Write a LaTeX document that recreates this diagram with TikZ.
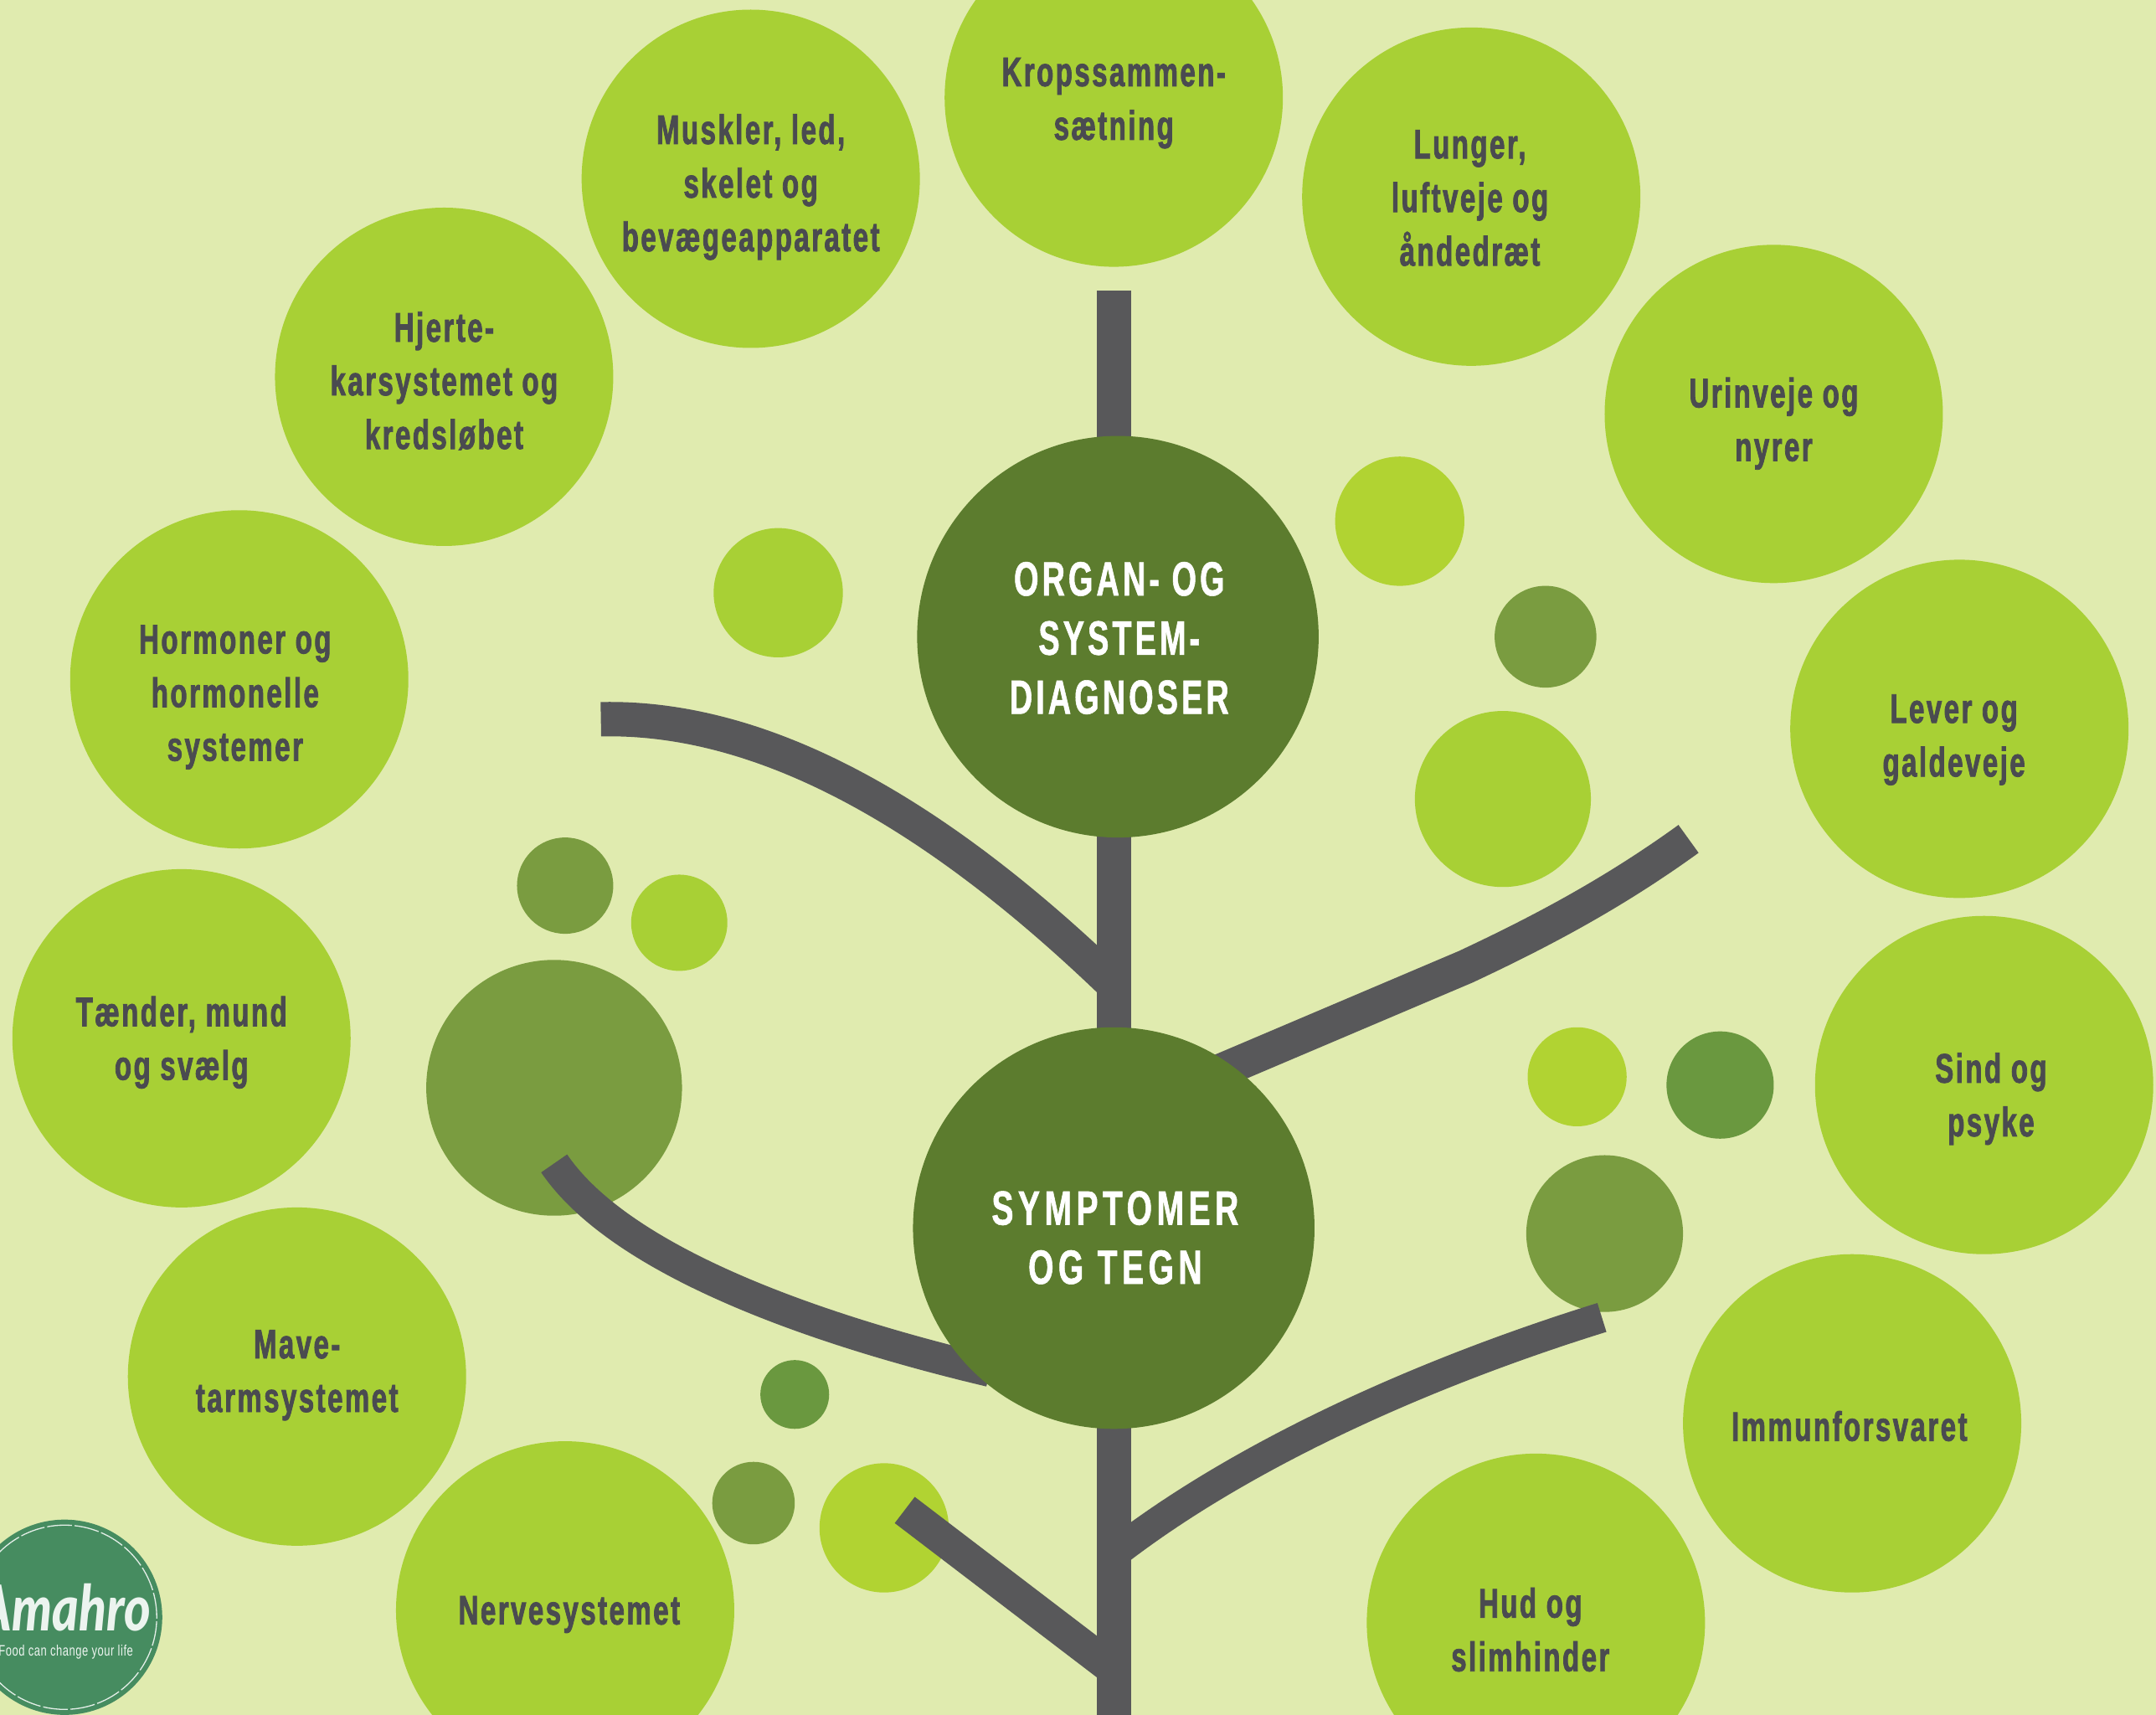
\documentclass[tikz,border=0pt]{standalone}
\usepackage{fontspec}
\setmainfont{Liberation Sans}
\newfontfamily\condb[FakeStretch=0.67,LetterSpace=5,FakeBold=1.6]{Liberation Sans Bold}
\newfontfamily\condw[FakeStretch=0.66,LetterSpace=7,FakeBold=1]{Liberation Sans Bold}
\newfontfamily\condwide[FakeStretch=0.68,LetterSpace=9.5,FakeBold=1]{Liberation Sans Bold}
\newfontfamily\condlogo[FakeStretch=0.72,LetterSpace=3]{Liberation Sans}
\newfontfamily\logoscript[FakeStretch=0.8]{Lato Black Italic}
\definecolor{bgc}{HTML}{E0EBAF}
\definecolor{bub}{HTML}{A8D035}
\definecolor{yel}{HTML}{B1D332}
\definecolor{mid}{HTML}{7A9C40}
\definecolor{deep}{HTML}{6A983F}
\definecolor{hub}{HTML}{5C7C2E}
\definecolor{stem}{HTML}{58585A}
\definecolor{txt}{HTML}{4A4B50}
\definecolor{logoc}{HTML}{468C60}
\tikzset{
  x=1pt,y=-1pt,
  big/.style={circle,fill=bub,minimum size=246pt,inner sep=0pt,outer sep=0pt},
  hubc/.style={circle,fill=hub,minimum size=292pt,inner sep=0pt,outer sep=0pt},
  dot/.style={circle,inner sep=0pt,outer sep=0pt},
  lab/.style={align=center,text=txt,inner sep=0pt,font=\condb\fontsize{30}{39}\selectfont},
  hublab/.style={align=center,text=white,inner sep=0pt,font=\condw\fontsize{35}{43}\selectfont},
  branch/.style={draw=stem,line width=25pt,line cap=butt},
}
\begin{document}
\begin{tikzpicture}
\useasboundingbox (0,0) rectangle (1568,1247);
\clip (0,0) rectangle (1568,1247);
\fill[bgc] (0,0) rectangle (1568,1247);
% connector ends
\coordinate (trunkTop) at (810,211);
\coordinate (trunkBot) at (810,1250);
\coordinate (b1s) at (437,523);
\coordinate (b1e) at (810,716);
\coordinate (b2s) at (1228,610);
\coordinate (b2m) at (1066,703);
\coordinate (b2e) at (880,782);
\coordinate (b3s) at (403,846);
\coordinate (b3e) at (720,997);
\coordinate (b4s) at (1165,958);
\coordinate (b4e) at (810,1130);
\coordinate (b5s) at (658,1098);
\coordinate (b5e) at (810,1214);
% background dots that lie under the branches
\node[dot,fill=mid,minimum size=186pt] (d1) at (403,791) {};
\node[dot,fill=mid,minimum size=114pt] (d2) at (1167,897) {};
\node[dot,fill=yel,minimum size=94pt] (d3) at (643,1111) {};
% stem and branches
\draw[stem,line width=25pt] (trunkTop) -- (trunkBot);
\draw[branch] (b1s) .. controls (570,520) and (700,610) .. (b1e);
\draw[branch] (b2s) .. controls (1170,652) and (1115,680) .. (b2m) -- (b2e);
\draw[branch,line width=23pt] (b3s) .. controls (450,915) and (585,965) .. (b3e);
\draw[branch,line width=22pt] (b4s) .. controls (1030,1000) and (900,1060) .. (b4e);
\draw[branch,line width=24pt] (b5s) -- (b5e);
% hubs
\node[hubc] (organ) at (813,463) {};
\node[hubc] (sympt) at (810,893) {};
\node[hublab] (organT) at (814,464) {ORGAN- OG\\SYSTEM-\\DIAGNOSER};
\node[hublab,font=\condwide\fontsize{35}{43}\selectfont] (symptT) at (811,900) {SYMPTOMER\\OG TEGN};
% outer circles
\node[big] (c1) at (810,71) {};
\node[big] (c2) at (546,130) {};
\node[big] (c3) at (1070,143) {};
\node[big] (c4) at (323,274) {};
\node[big] (c5) at (1290,301) {};
\node[big] (c6) at (174,494) {};
\node[big] (c7) at (1425,530) {};
\node[big] (c8) at (132,755) {};
\node[big] (c9) at (1443,789) {};
\node[big] (c10) at (216,1001) {};
\node[big] (c11) at (1347,1035) {};
\node[big] (c12) at (411,1171) {};
\node[big] (c13) at (1117,1180) {};
% small dots
\node[dot,fill=bub,minimum size=94pt] (s1) at (566,431) {};
\node[dot,fill=yel,minimum size=94pt] (s2) at (1018,379) {};
\node[dot,fill=mid,minimum size=74pt] (s3) at (1124,463) {};
\node[dot,fill=bub,minimum size=128pt] (s4) at (1093,581) {};
\node[dot,fill=mid,minimum size=70pt] (s5) at (411,644) {};
\node[dot,fill=bub,minimum size=70pt] (s6) at (494,671) {};
\node[dot,fill=yel,minimum size=72pt] (s7) at (1147,783) {};
\node[dot,fill=deep,minimum size=78pt] (s8) at (1251,789) {};
\node[dot,fill=deep,minimum size=50pt] (s9) at (578,1014) {};
\node[dot,fill=mid,minimum size=60pt] (s10) at (548,1093) {};
% labels
\node[lab] (t1) at (810,75) {Kropssammen-\\sætning};
\node[lab] (t2) at (546,136) {Muskler, led,\\skelet og\\bevægeapparatet};
\node[lab] (t3) at (1069,144) {Lunger,\\luftveje og\\åndedræt};
\node[lab] (t4) at (323,277) {Hjerte-\\karsystemet og\\kredsløbet};
\node[lab] (t5) at (1290,308) {Urinveje og\\nyrer};
\node[lab] (t6) at (171,507) {Hormoner og\\hormonelle\\systemer};
\node[lab] (t7) at (1421,538) {Lever og\\galdeveje};
\node[lab] (t8) at (132,758) {Tænder, mund\\og svælg};
\node[lab] (t9) at (1448,799) {Sind og\\psyke};
\node[lab] (t10) at (216,1000) {Mave-\\tarmsystemet};
\node[lab] (t11) at (1345,1037) {Immunforsvaret};
\node[lab] (t12) at (414,1174) {Nervesystemet};
\node[lab] (t13) at (1113,1185) {Hud og\\slimhinder};
% logo
\node[dot,fill=logoc,minimum size=142pt] (logo) at (47,1176) {};
\draw[white!85!logoc,line width=0.8pt,dash pattern=on 18pt off 2pt] (logo.center) circle (67pt);
\node[text=white!90!logoc,inner sep=0pt,anchor=base east,font=\logoscript\fontsize{46}{46}\selectfont] (lg1) at (110,1186) {Amahro};
\node[text=white!90!logoc,inner sep=0pt,anchor=base east,font=\condlogo\fontsize{11}{11}\selectfont] (lg2) at (97,1204) {Food can change your life};
\end{tikzpicture}
\end{document}
